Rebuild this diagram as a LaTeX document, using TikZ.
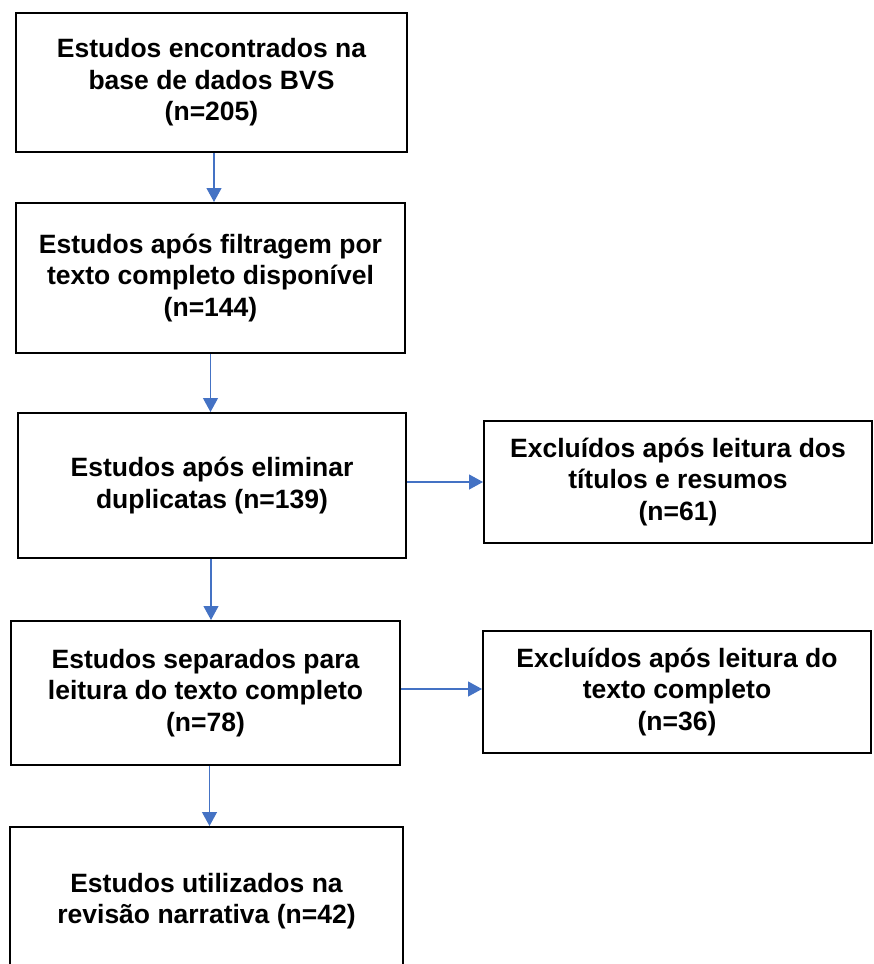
\documentclass[tikz,border=0pt]{standalone}
\usepackage{fontspec}
\setmainfont{Liberation Sans}
\usetikzlibrary{arrows.meta}
\definecolor{arrowblue}{HTML}{4472C4}
\begin{document}
\begin{tikzpicture}[x=1pt,y=-1pt,
  box/.style={draw=black,line width=2pt,fill=white,inner sep=0pt,align=center,
    font=\fontsize{26.5}{31.5}\selectfont\bfseries},
  flow/.style={draw=arrowblue,line width=1.2pt,-{Triangle[width=15pt,length=14pt]},fill=arrowblue}]
\useasboundingbox (0,0) rectangle (874,964);
\node[box,minimum width=391pt,minimum height=139pt] (b1) at (211.5,82.5)
  {Estudos encontrados na\\base de dados BVS\\(n=205)};
\node[box,minimum width=389pt,minimum height=150pt] (b2) at (210.5,278)
  {Estudos após filtragem por\\texto completo disponível\\(n=144)};
\node[box,minimum width=388pt,minimum height=145pt] (b3) at (212,485.5)
  {Estudos após eliminar\\duplicatas (n=139)};
\node[box,minimum width=388pt,minimum height=122pt] (b4) at (678,482)
  {Excluídos após leitura dos\\títulos e resumos\\(n=61)};
\node[box,minimum width=389pt,minimum height=144pt] (b5) at (205.5,693)
  {Estudos separados para\\leitura do texto completo\\(n=78)};
\node[box,minimum width=388pt,minimum height=122pt] (b6) at (677,692)
  {Excluídos após leitura do\\texto completo\\(n=36)};
\node[box,minimum width=393pt,minimum height=148pt] (b7) at (206.5,901)
  {Estudos utilizados na\\revisão narrativa (n=42)};
\draw[flow] ([xshift=2.5pt]b1.south) -- ([xshift=2.5pt]b1.south |- b2.north);
\draw[flow] (b2.south) -- (b2.south |- b3.north);
\draw[flow] ([xshift=-1pt]b3.south) -- ([xshift=-1pt]b3.south |- b5.north);
\draw[flow] ([xshift=4pt]b5.south) -- ([xshift=4pt]b5.south |- b7.north);
\draw[flow] (b3.east |- b4.west) -- (b4.west);
\draw[flow] ([yshift=3pt]b5.east |- b6.west) -- ([yshift=3pt]b6.west);
\end{tikzpicture}
\end{document}
